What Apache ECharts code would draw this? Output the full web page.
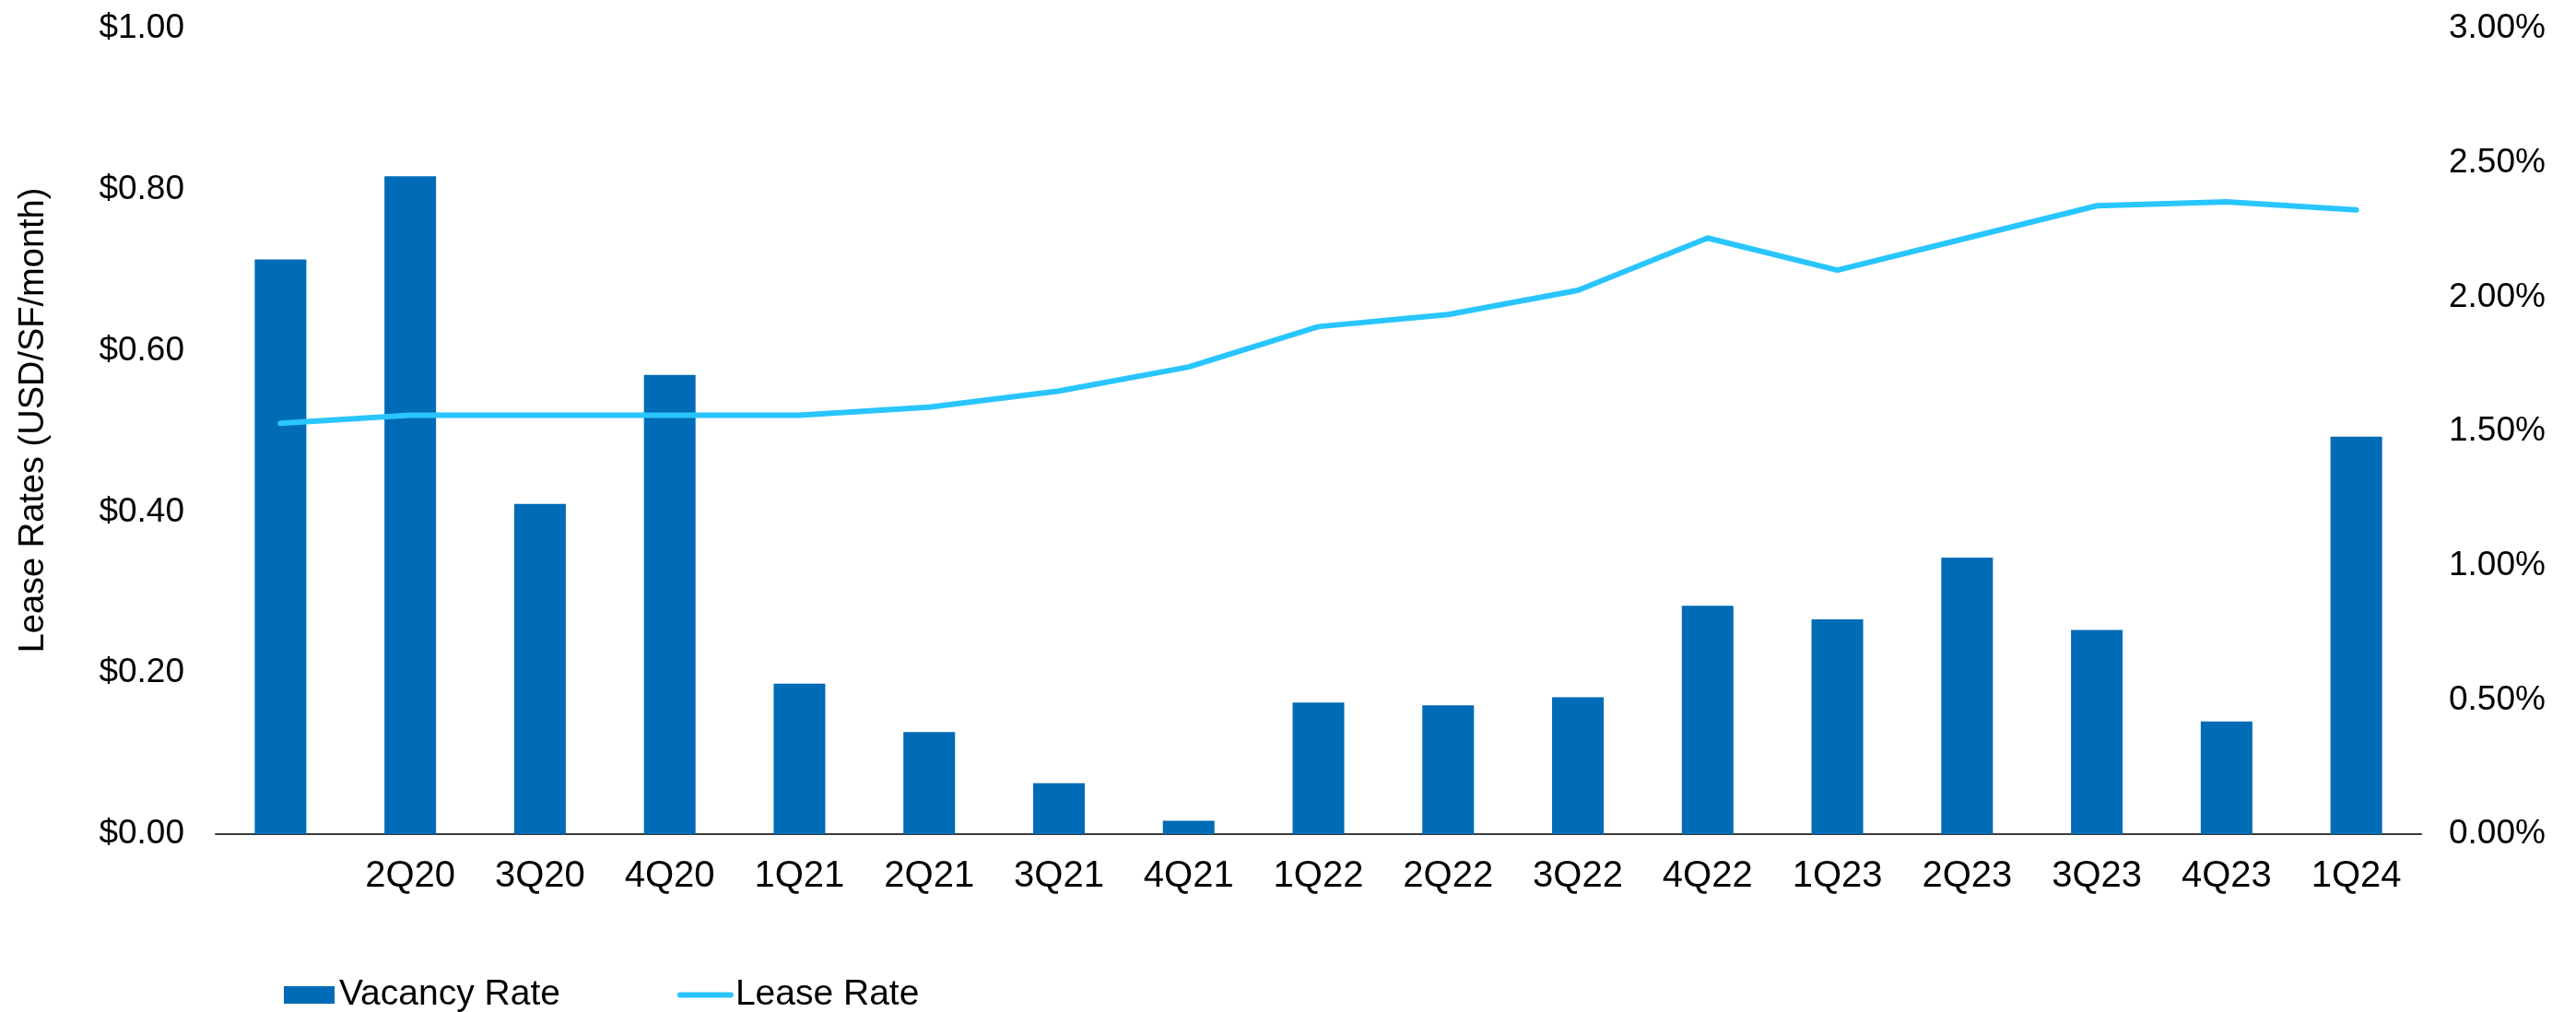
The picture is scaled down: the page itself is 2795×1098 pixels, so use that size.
<!DOCTYPE html>
<html>
<head>
<meta charset="utf-8">
<script src="https://cdn.jsdelivr.net/npm/echarts@6/dist/echarts.min.js"></script>
<style>
  html, body { margin: 0; padding: 0; background: #ffffff; }
  #chart { width: 2795px; height: 1098px; }
</style>
</head>
<body>
<div id="chart"></div>
<script>
// Quarterly lease rates (USD/SF/month) and vacancy rates (%)
const quarters = ['', '2Q20', '3Q20', '4Q20', '1Q21', '2Q21', '3Q21', '4Q21',
  '1Q22', '2Q22', '3Q22', '4Q22', '1Q23', '2Q23', '3Q23', '4Q23', '1Q24'];
const vacancyRate = [2.14, 2.45, 1.23, 1.71, 0.56, 0.38, 0.19, 0.05,
  0.49, 0.48, 0.51, 0.85, 0.80, 1.03, 0.76, 0.42, 1.48];
const leaseRate = [0.51, 0.52, 0.52, 0.52, 0.52, 0.53, 0.55, 0.58,
  0.63, 0.645, 0.675, 0.74, 0.70, 0.74, 0.78, 0.785, 0.775];
const leaseTicks = { min: 0, max: 1, step: 0.2 };
const vacancyTicks = { min: 0, max: 3, step: 0.5 };

const FONT = '"Liberation Sans", Arial, sans-serif';
const LINE_COLOR = '#29C5FF';
const BAR_COLOR = '#006BB6';
const chart = echarts.init(document.getElementById('chart'), null, { renderer: 'canvas' });

chart.setOption({
  backgroundColor: '#ffffff',
  animation: false,
  textStyle: { fontFamily: FONT, color: '#000000' },
  grid: { left: 234, right: 168, top: 31, bottom: 193, containLabel: false },
  legend: {
    left: 308,
    top: 1060,
    padding: 0,
    itemWidth: 55,
    itemHeight: 19,
    itemGap: 127,
    textStyle: { fontFamily: FONT, fontSize: 39, color: '#000000' },
    data: [
      { name: 'Vacancy Rate', icon: 'rect' },
      {
        name: 'Lease Rate',
        itemStyle: { opacity: 0 },
        lineStyle: { width: 6, cap: 'round', color: LINE_COLOR }
      }
    ]
  },
  xAxis: {
    type: 'category',
    data: quarters,
    axisLine: { show: true, lineStyle: { color: '#3a3a3a', width: 2 } },
    axisTick: { show: false },
    axisLabel: { fontFamily: FONT, fontSize: 40, color: '#000000', margin: 26, interval: 0 },
    splitLine: { show: false }
  },
  yAxis: [
    {
      type: 'value',
      position: 'left',
      min: leaseTicks.min,
      max: leaseTicks.max,
      interval: leaseTicks.step,
      name: 'Lease Rates (USD/SF/month)',
      nameLocation: 'middle',
      nameRotate: 90,
      nameGap: 178,
      nameTextStyle: { fontFamily: FONT, fontSize: 38, color: '#000000', padding: [0, 0, 0, 24] },
      axisLine: { show: false },
      axisTick: { show: false },
      splitLine: { show: false },
      axisLabel: {
        fontFamily: FONT, fontSize: 37, color: '#000000', margin: 34,
        formatter: v => '$' + v.toFixed(2)
      }
    },
    {
      type: 'value',
      position: 'right',
      min: vacancyTicks.min,
      max: vacancyTicks.max,
      interval: vacancyTicks.step,
      axisLine: { show: false },
      axisTick: { show: false },
      splitLine: { show: false },
      axisLabel: {
        fontFamily: FONT, fontSize: 37, color: '#000000', margin: 30,
        formatter: v => v.toFixed(2) + '%'
      }
    }
  ],
  series: [
    {
      name: 'Vacancy Rate',
      type: 'bar',
      yAxisIndex: 1,
      data: vacancyRate,
      barWidth: 56,
      itemStyle: { color: BAR_COLOR },
      z: 2
    },
    {
      name: 'Lease Rate',
      type: 'line',
      yAxisIndex: 0,
      data: leaseRate,
      symbol: 'none',
      lineStyle: { color: LINE_COLOR, width: 6, cap: 'round', join: 'round' },
      itemStyle: { color: LINE_COLOR },
      z: 3
    }
  ]
});
</script>
</body>
</html>
